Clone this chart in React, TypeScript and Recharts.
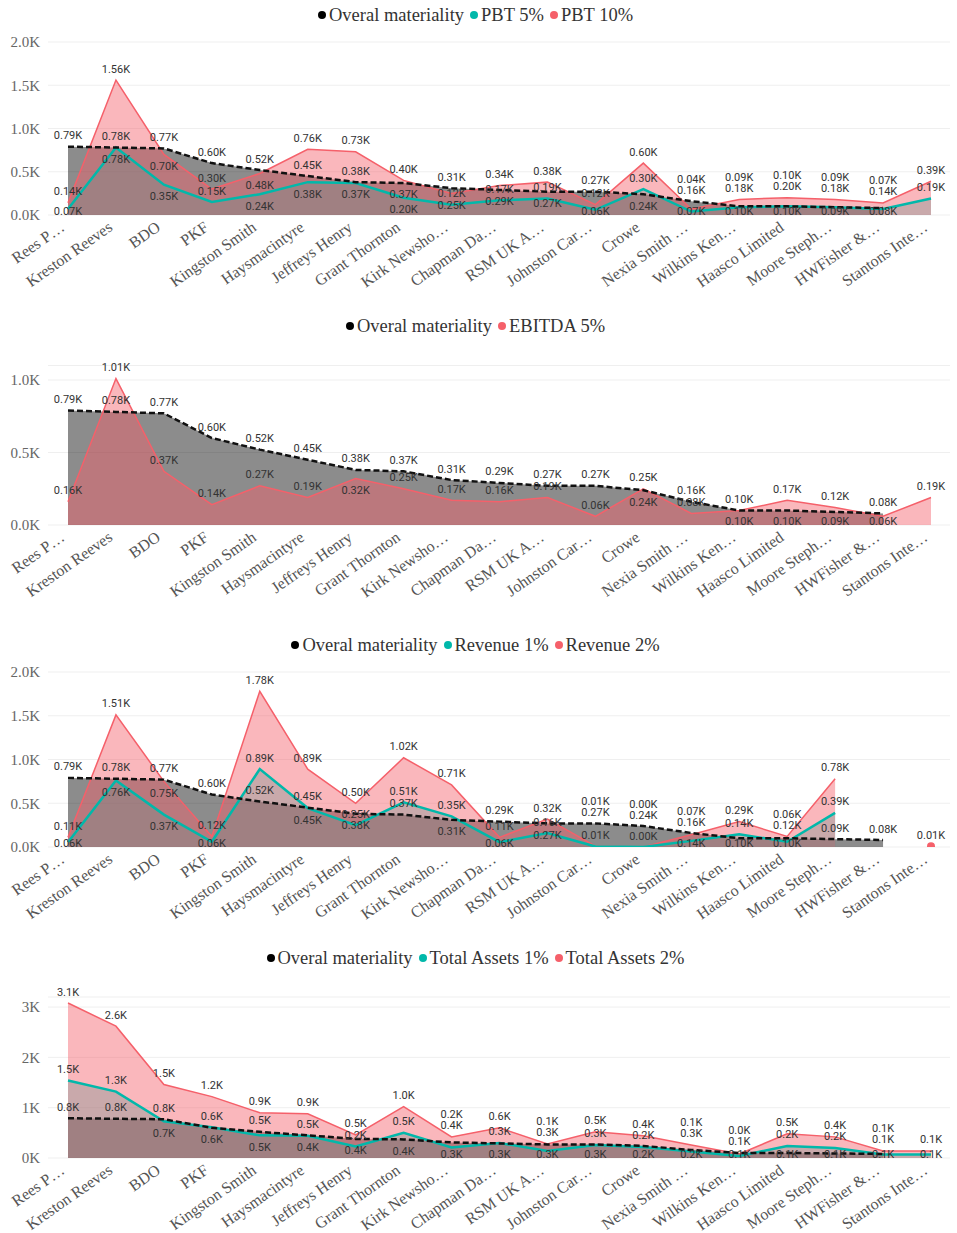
import React from 'react';
import {
  ComposedChart,
  Area,
  Line,
  XAxis,
  YAxis,
  CartesianGrid,
  LabelList,
} from 'recharts';

const categories = [
  'Rees P…', 'Kreston Reeves', 'BDO', 'PKF', 'Kingston Smith', 'Haysmacintyre',
  'Jeffreys Henry', 'Grant Thornton', 'Kirk Newsho…', 'Chapman Da…', 'RSM UK A…',
  'Johnston Car…', 'Crowe', 'Nexia Smith …', 'Wilkins Ken…', 'Haasco Limited',
  'Moore Steph…', 'HWFisher &…', 'Stantons Inte…',
];

// values in thousands
const overall = [0.79, 0.78, 0.77, 0.6, 0.52, 0.45, 0.38, 0.37, 0.31, 0.29, 0.27, 0.27, 0.24, 0.16, 0.1, 0.1, 0.09, 0.08, null];
const pbt5 = [0.07, 0.78, 0.35, 0.15, 0.24, 0.38, 0.37, 0.2, 0.12, 0.17, 0.19, 0.06, 0.3, 0.04, 0.09, 0.1, 0.09, 0.07, 0.19];
const pbt10 = [0.14, 1.56, 0.7, 0.3, 0.48, 0.76, 0.73, 0.4, 0.25, 0.34, 0.38, 0.12, 0.6, 0.07, 0.18, 0.2, 0.18, 0.14, 0.39];
const ebitda5 = [0.16, 1.01, 0.37, 0.14, 0.27, 0.19, 0.32, 0.25, 0.17, 0.16, 0.19, 0.06, 0.25, 0.08, 0.1, 0.17, 0.12, 0.06, 0.19];
const revenue1 = [0.055, 0.76, 0.37, 0.06, 0.89, 0.445, 0.25, 0.51, 0.35, 0.055, 0.16, 0.005, 0.0, 0.07, 0.145, 0.06, 0.39, null, null];
const revenue2 = [0.11, 1.51, 0.75, 0.12, 1.78, 0.89, 0.5, 1.02, 0.71, 0.11, 0.32, 0.01, 0.0, 0.14, 0.29, 0.12, 0.78, null, 0.01];
const assets1 = [1.54, 1.32, 0.73, 0.61, 0.45, 0.44, 0.23, 0.5, 0.21, 0.3, 0.14, 0.26, 0.22, 0.13, 0.04, 0.24, 0.2, 0.07, 0.07];
const assets2 = [3.08, 2.62, 1.46, 1.22, 0.9, 0.88, 0.46, 1.02, 0.42, 0.6, 0.28, 0.52, 0.44, 0.26, 0.08, 0.48, 0.42, 0.14, 0.14];

const W = 957;
const XH = 70;
const TEAL = '#01B8AA';
const RED = '#F5606A';
const SERIF = '"Liberation Serif", "Times New Roman", serif';
const LABEL_FONT = 'Roboto, "DejaVu Sans", sans-serif';

type Vals = (number | null)[];

type PanelCfg = {
  legendY: number;
  top: number;
  height: number;
  plotTop: number;
  plotBottom: number;
  domain: [number, number];
  ticks: number[];
  decimals: number;
  yFmt: (v: number) => string;
  low?: Vals;
  lowName?: string;
  high: Vals;
  highName: string;
};

const panels: PanelCfg[] = [
  {
    legendY: 15, top: 25, height: 278, plotTop: 42, plotBottom: 215,
    domain: [0, 2], ticks: [0, 0.5, 1, 1.5, 2], decimals: 2,
    yFmt: (v) => `${v.toFixed(1)}K`,
    low: pbt5, lowName: 'PBT 5%', high: pbt10, highName: 'PBT 10%',
  },
  {
    legendY: 326, top: 340, height: 275, plotTop: 365.5, plotBottom: 525,
    domain: [0, 1.1], ticks: [0, 0.5, 1], decimals: 2,
    yFmt: (v) => `${v.toFixed(1)}K`,
    high: ebitda5, highName: 'EBITDA 5%',
  },
  {
    legendY: 645, top: 655, height: 280, plotTop: 672, plotBottom: 847,
    domain: [0, 2], ticks: [0, 0.5, 1, 1.5, 2], decimals: 2,
    yFmt: (v) => `${v.toFixed(1)}K`,
    low: revenue1, lowName: 'Revenue 1%', high: revenue2, highName: 'Revenue 2%',
  },
  {
    legendY: 958, top: 968, height: 265, plotTop: 997, plotBottom: 1158,
    domain: [0, 3.2], ticks: [0, 1, 2, 3], decimals: 1,
    yFmt: (v) => `${v}K`,
    low: assets1, lowName: 'Total Assets 1%', high: assets2, highName: 'Total Assets 2%',
  },
];

// put each label above its point, or below when the spot above is taken
const labelOffsets = (cfg: PanelCfg) => {
  const k = (cfg.plotBottom - cfg.plotTop) / (cfg.domain[1] - cfg.domain[0]);
  return categories.map((_, i) => {
    const items = [
      { key: 'high', v: cfg.high[i] },
      { key: 'overall', v: overall[i] },
      { key: 'low', v: cfg.low ? cfg.low[i] : null },
    ]
      .filter((it) => it.v != null)
      .map((it) => ({ key: it.key, y: -(it.v as number) * k }));
    items.sort((a, b) => a.y - b.y);
    const placed: number[] = [];
    const res: Record<string, number> = {};
    const free = (c: number) => placed.every((p) => Math.abs(p - c) >= 11);
    for (const it of items) {
      const above = it.y - 11;
      const below = Math.min(it.y + 12, -4);
      let c = above;
      if (!free(above)) {
        if (below > it.y - 2 && free(below)) c = below;
        else if (placed.length) c = Math.min(...placed) - 11;
      }
      placed.push(c);
      res[it.key] = c - it.y;
    }
    return res;
  });
};

const XTick = (props: any) => {
  const { x, y, payload } = props;
  return (
    <g transform={`translate(${x - 7},${y})`}>
      <text
        x={0}
        y={0}
        dy={8}
        textAnchor="end"
        transform="rotate(-35)"
        fontFamily={SERIF}
        fontSize={16}
        fill="#555"
      >
        {payload.value}
      </text>
    </g>
  );
};

const LegendItem = ({ color, text }: { color: string; text: string }) => (
  <span style={{ display: 'inline-flex', alignItems: 'center', marginRight: 6 }}>
    <span
      style={{
        display: 'inline-block',
        width: 8,
        height: 8,
        borderRadius: 4,
        background: color,
        marginRight: 3,
      }}
    />
    {text}
  </span>
);

const Panel = ({ cfg }: { cfg: PanelCfg }) => {
  const data = categories.map((name, i) => ({
    name,
    overall: overall[i],
    low: cfg.low ? cfg.low[i] : null,
    high: cfg.high[i],
  }));
  const offsets = labelOffsets(cfg);

  const makeLabel = (key: string) => (props: any) => {
    const { value, index } = props;
    if (value == null) return null;
    const vb = props.viewBox || {};
    const x = props.x ?? vb.x;
    const y = props.y ?? vb.y;
    if (x == null || y == null) return null;
    const dy = offsets[index] ? offsets[index][key] ?? -11 : -11;
    return (
      <text
        key={`${key}${index}`}
        x={x}
        y={y + dy}
        textAnchor="middle"
        dominantBaseline="central"
        fontFamily={LABEL_FONT}
        fontSize={11}
        fill="#333"
      >
        {`${Number(value).toFixed(cfg.decimals)}K`}
      </text>
    );
  };

  // Power BI draws a marker for a point with no neighbours
  const loneDot = (props: any) => {
    const { cx, cy, index } = props;
    const v = cfg.high[index];
    const prev = index > 0 ? cfg.high[index - 1] : null;
    const next = index < cfg.high.length - 1 ? cfg.high[index + 1] : null;
    if (v == null || prev != null || next != null) return <g key={`d${index}`} />;
    return <circle key={`d${index}`} cx={cx} cy={cy} r={4} fill={RED} />;
  };

  return (
    <>
      <div
        style={{
          position: 'absolute',
          top: cfg.legendY - 12,
          left: 0,
          width: W,
          height: 24,
          display: 'flex',
          justifyContent: 'center',
          alignItems: 'center',
          fontFamily: SERIF,
          fontSize: 18.5,
          color: '#333',
        }}
      >
        <LegendItem color="#000" text="Overal materiality" />
        {cfg.lowName && <LegendItem color={TEAL} text={cfg.lowName} />}
        <LegendItem color={RED} text={cfg.highName} />
      </div>
      <div style={{ position: 'absolute', top: cfg.top, left: 0 }}>
        <ComposedChart
          width={W}
          height={cfg.height}
          data={data}
          margin={{
            top: cfg.plotTop - cfg.top,
            right: 7,
            bottom: cfg.top + cfg.height - cfg.plotBottom - XH,
            left: 0,
          }}
        >
          <CartesianGrid vertical={false} stroke="#efefef" />
          <XAxis
            dataKey="name"
            interval={0}
            padding={{ left: 20, right: 19 }}
            axisLine={false}
            tickLine={false}
            height={XH}
            tick={<XTick />}
          />
          <YAxis
            width={48}
            domain={cfg.domain}
            ticks={cfg.ticks}
            tickFormatter={cfg.yFmt}
            axisLine={false}
            tickLine={false}
            tickMargin={2}
            allowDataOverflow
            tick={{ fontFamily: SERIF, fontSize: 15, fill: '#666' }}
          />
          <Area
            dataKey="overall"
            stroke="none"
            fill="#000"
            fillOpacity={0.45}
            dot={false}
            activeDot={false}
            isAnimationActive={false}
          />
          {cfg.low && (
            <Area
              dataKey="low"
              stroke="none"
              fill={TEAL}
              fillOpacity={0.35}
              dot={false}
              activeDot={false}
              isAnimationActive={false}
            />
          )}
          <Area
            dataKey="high"
            stroke="none"
            fill={RED}
            fillOpacity={0.45}
            dot={false}
            activeDot={false}
            isAnimationActive={false}
          />
          <Line
            dataKey="high"
            stroke={RED}
            strokeWidth={1.5}
            dot={loneDot}
            activeDot={false}
            isAnimationActive={false}
          >
            <LabelList dataKey="high" content={makeLabel('high')} />
          </Line>
          {cfg.low && (
            <Line
              dataKey="low"
              stroke={TEAL}
              strokeWidth={2.5}
              dot={false}
              activeDot={false}
              isAnimationActive={false}
            >
              <LabelList dataKey="low" content={makeLabel('low')} />
            </Line>
          )}
          <Line
            dataKey="overall"
            stroke="#111"
            strokeWidth={2.5}
            strokeDasharray="6 3"
            dot={false}
            activeDot={false}
            isAnimationActive={false}
          >
            <LabelList dataKey="overall" content={makeLabel('overall')} />
          </Line>
        </ComposedChart>
      </div>
    </>
  );
};

export default function App() {
  return (
    <div style={{ position: 'absolute', left: 0, top: 0, width: W, height: 1233, background: '#fff' }}>
      {panels.map((p, i) => (
        <Panel key={i} cfg={p} />
      ))}
    </div>
  );
}
